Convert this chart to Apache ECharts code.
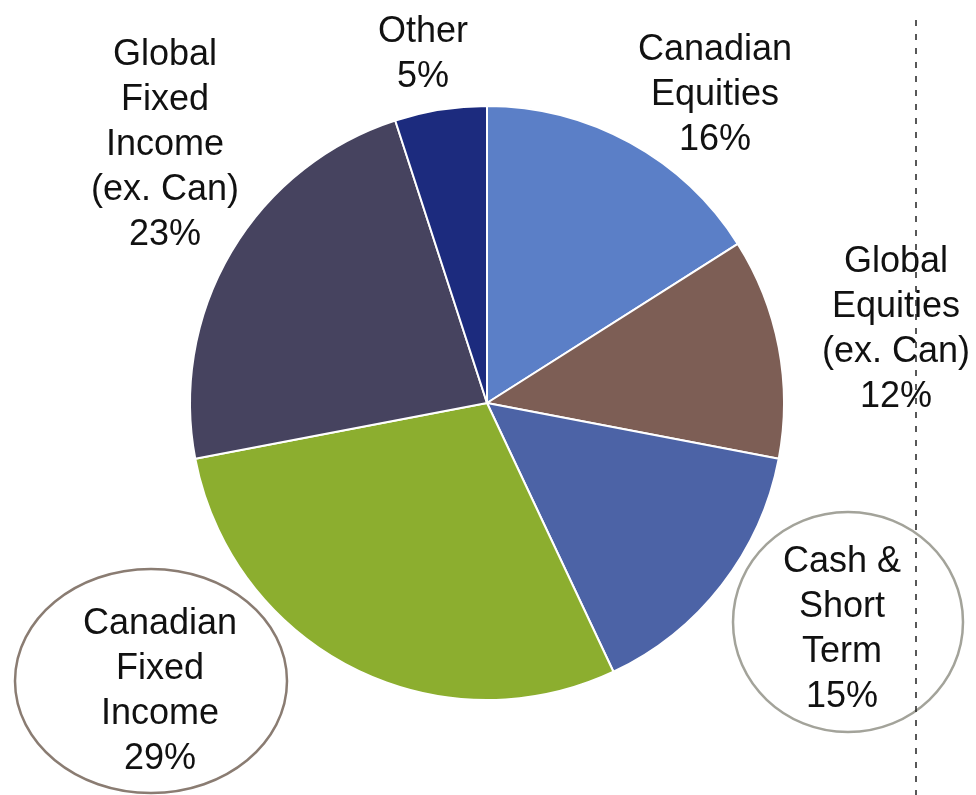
<!DOCTYPE html>
<html>
<head>
<meta charset="utf-8">
<script src="https://cdn.jsdelivr.net/npm/echarts@6/dist/echarts.min.js"></script>
<style>
  html, body { margin: 0; padding: 0; background: #fff; }
  #main { width: 976px; height: 795px; }
</style>
</head>
<body>
<div id="main"></div>
<script>
// 资产配置数据
var categories = [
  'Canadian\nEquities',
  'Global\nEquities\n(ex. Can)',
  'Cash &\nShort\nTerm',
  'Canadian\nFixed\nIncome',
  'Global\nFixed\nIncome\n(ex. Can)',
  'Other'
];
var values = [16, 12, 15, 29, 23, 5];
var colors = ['#5b7fc7', '#7d5e55', '#4c63a6', '#8cae2f', '#46435f', '#1c2b7e'];

// 标签中心位置（按扇区顺序）
var labelCenters = [
  [715, 95], [896, 330], [842, 630], [160, 692], [165, 145], [423, 55]
];

var myChart = echarts.init(document.getElementById('main'));
var option = {
    backgroundColor: '#ffffff',
    animation: false,
    graphic: [
        // 右侧虚线
        {
            type: 'line',
            shape: { x1: 916, y1: 20, x2: 916, y2: 795 },
            style: { stroke: '#222', lineWidth: 1.5, lineDash: [6, 8] },
            z: 10
        },
        // 圈注
        {
            type: 'ellipse',
            shape: { cx: 151, cy: 681, rx: 136, ry: 112 },
            style: { fill: 'none', stroke: '#8a7c72', lineWidth: 2.5 },
            z: 5
        },
        {
            type: 'ellipse',
            shape: { cx: 848, cy: 622, rx: 115, ry: 110 },
            style: { fill: 'none', stroke: '#a3a39a', lineWidth: 2.5 },
            z: 5
        }
    ],
    series: [{
        type: 'pie',
        center: [487, 403],
        radius: 297,
        startAngle: 90,
        clockwise: true,
        data: categories.map(function (name, i) {
            return { name: name, value: values[i], itemStyle: { color: colors[i] } };
        }),
        itemStyle: {
            borderColor: '#ffffff',
            borderWidth: 2
        },
        label: {
            show: true,
            position: 'outside',
            formatter: '{b}\n{c}%',
            fontFamily: 'Liberation Sans',
            fontSize: 36,
            lineHeight: 45,
            color: '#111',
            align: 'center',
            overflow: 'none',
            width: 220
        },
        labelLine: { show: false },
        labelLayout: function (params) {
            var p = labelCenters[params.dataIndex];
            return { x: p[0], y: p[1], align: 'center', verticalAlign: 'middle' };
        },
        emphasis: { disabled: true }
    }]
};
myChart.setOption(option);
</script>
</body>
</html>
